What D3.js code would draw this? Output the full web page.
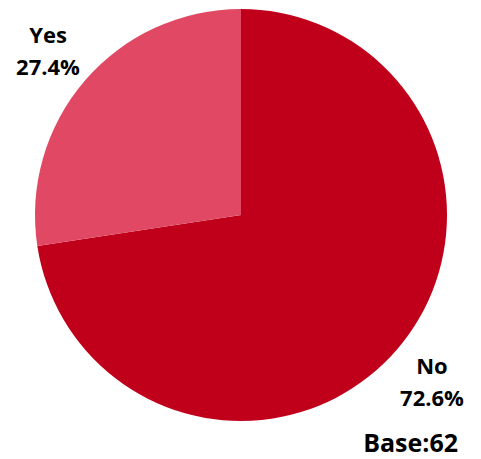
<!DOCTYPE html>
<html>
<head>
<meta charset="utf-8">
<script src="https://cdn.jsdelivr.net/npm/d3@7"></script>
<style>
  html, body { margin: 0; padding: 0; background: #fff; }
  svg text { font-family: "Open Sans", "Noto Sans", sans-serif; font-weight: 700; fill: #000; }
</style>
</head>
<body>
<svg id="chart" width="481" height="459"></svg>
<script>
// Answer categories and their shares (%)
const categories = ["No", "Yes"];
const shares = [72.6, 27.4];
const colors = ["#C0001A", "#E04864"];
const baseCount = 62;

const svg = d3.select("#chart");
const cx = 241, cy = 215, radius = 206;

const pie = d3.pie().sort(null).value(d => d.value);
const data = categories.map((c, i) => ({ name: c, value: shares[i], color: colors[i] }));
const arcs = pie(data);
const arc = d3.arc().innerRadius(0).outerRadius(radius);

const g = svg.append("g").attr("transform", `translate(${cx},${cy})`);
g.selectAll("path").data(arcs).join("path")
  .attr("d", arc)
  .attr("fill", d => d.data.color);

// Labels outside the slices
const labelPos = { "Yes": [48, 43], "No": [432, 374] };
arcs.forEach(a => {
  const [x, y] = labelPos[a.data.name];
  const t = svg.append("text").attr("text-anchor", "middle").attr("font-size", 22);
  t.append("tspan").attr("x", x).attr("y", y).text(a.data.name);
  t.append("tspan").attr("x", x).attr("y", y + 32).text(d3.format(".1f")(a.data.value) + "%");
});

// Sample size note, bottom right
svg.append("text")
  .attr("x", 458).attr("y", 452)
  .attr("text-anchor", "end")
  .attr("font-size", 25)
  .text("Base:" + baseCount);
</script>
</body>
</html>
